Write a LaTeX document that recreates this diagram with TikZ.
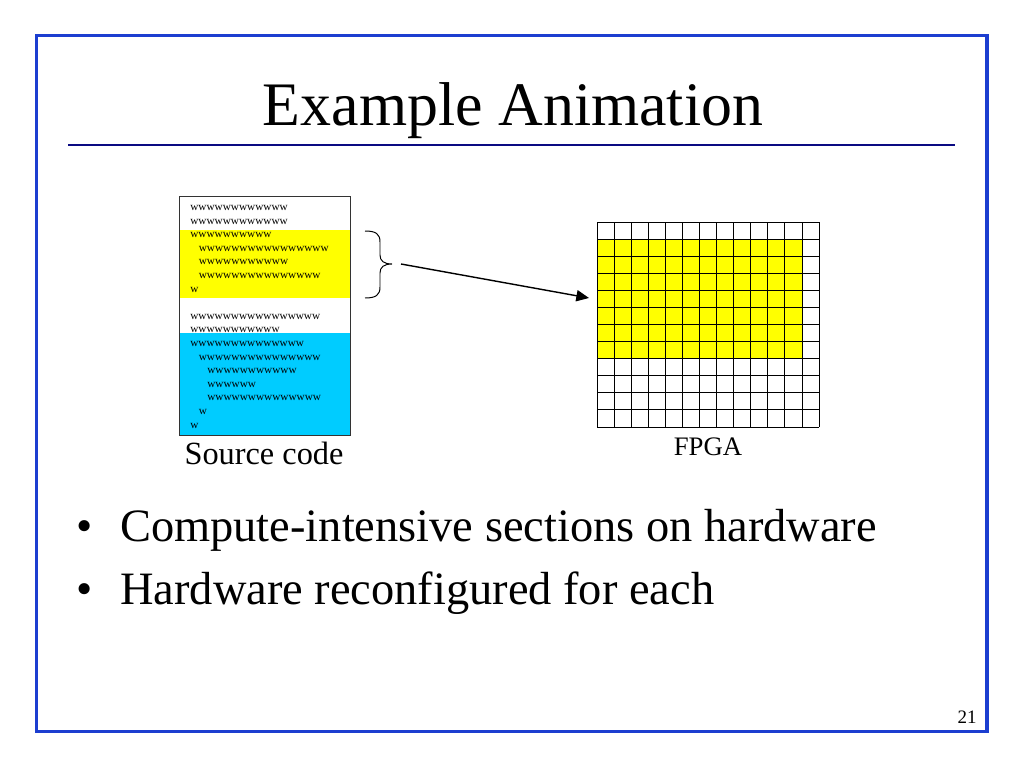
\documentclass[tikz,border=0pt]{standalone}
\usepackage{fontspec}
\setmainfont{Liberation Serif}
\usepackage{tikz}
\usetikzlibrary{arrows.meta, calc}
\definecolor{frameblue}{RGB}{28,62,208}
\definecolor{titlenavy}{RGB}{10,10,130}
\definecolor{codeyellow}{RGB}{255,255,0}
\definecolor{codecyan}{RGB}{0,204,255}

\begin{document}
\begin{tikzpicture}[x=0.025cm, y=-0.025cm,
  codeline/.style={anchor=west, inner sep=0pt, font=\fontsize{8}{8}\selectfont},
  cellline/.style={black, line width=0.6pt}]

\useasboundingbox (0,0) rectangle (1024,768);

%------------------------------------------------
% CORNICE E TITOLO
%------------------------------------------------
\draw[frameblue, line width=2.6pt] (36.5,35.5) rectangle (987,731.5);

\node[anchor=base, font=\fontsize{44}{48}\selectfont] (title) at (513,126) {Example Animation};
\draw[titlenavy, line width=1.8pt] (68,145) -- (955,145);

%------------------------------------------------
% CODICE SORGENTE
%------------------------------------------------
% Sezioni evidenziate
\fill[codeyellow] (179,230) rectangle (350,298);
\fill[codecyan] (179,333) rectangle (350,435);
\draw[black!80, line width=0.6pt] (179,196) rectangle (350,435);

% Righe di codice (riga/rientro/testo)
\foreach \r/\ind/\txt in {0/0/wwwwwwwwwwww, 1/0/wwwwwwwwwwww, 2/0/wwwwwwwwww,
    3/1/wwwwwwwwwwwwwwww, 4/1/wwwwwwwwwww, 5/1/wwwwwwwwwwwwwww, 6/0/w,
    8/0/wwwwwwwwwwwwwwww, 9/0/wwwwwwwwwww, 10/0/wwwwwwwwwwwwww,
    11/1/wwwwwwwwwwwwwww, 12/2/wwwwwwwwwww, 13/2/wwwwww,
    14/2/wwwwwwwwwwwwww, 15/1/w, 16/0/w}
  \node[codeline] (code\r) at ({190+8.5*\ind},{208+13.6*\r}) {\txt};

\node[anchor=base, font=\fontsize{23}{26}\selectfont] (srclabel) at (264,464) {Source code};

%------------------------------------------------
% FPGA
%------------------------------------------------
\fill[codeyellow] (597,239.08) rectangle (802,358.56);
\foreach \i in {0,...,13}
  \draw[cellline] ({597+17.08*\i},222) -- ({597+17.08*\i},427);
\foreach \j in {0,...,12}
  \draw[cellline] (597,{222+17.08*\j}) -- (819,{222+17.08*\j});

\node[anchor=base, font=\fontsize{19}{22}\selectfont] (fpgalabel) at (708,455) {FPGA};

% Graffa e freccia
\draw[line width=0.7pt] (365,231) .. controls (376,231) and (380,234) .. (380,242) -- (380,255)
  .. controls (380,261) and (384,264) .. (392,264)
  .. controls (384,264) and (380,267) .. (380,273) -- (380,287)
  .. controls (380,295) and (376,298) .. (365,298);
\coordinate (bracetip) at (401,264);
\coordinate (fpgain) at (589,298);
\draw[-{Triangle[length=9pt,width=8pt]}, line width=1pt] (bracetip) -- (fpgain);

%------------------------------------------------
% ELENCO PUNTATO
%------------------------------------------------
\node[anchor=base, font=\fontsize{33}{36}\selectfont] (dot1) at (85,541) {\textbullet};
\node[anchor=base west, inner sep=0pt, font=\fontsize{33}{36}\selectfont] (item1) at (120,541) {Compute-intensive sections on hardware};
\node[anchor=base, font=\fontsize{33}{36}\selectfont] (dot2) at (85,604) {\textbullet};
\node[anchor=base west, inner sep=0pt, font=\fontsize{33}{36}\selectfont] (item2) at (120,604) {Hardware reconfigured for each};

% Numero di pagina
\node[anchor=base, font=\fontsize{13.5}{16}\selectfont] (pagenum) at (967,723) {21};
\end{tikzpicture}
\end{document}
